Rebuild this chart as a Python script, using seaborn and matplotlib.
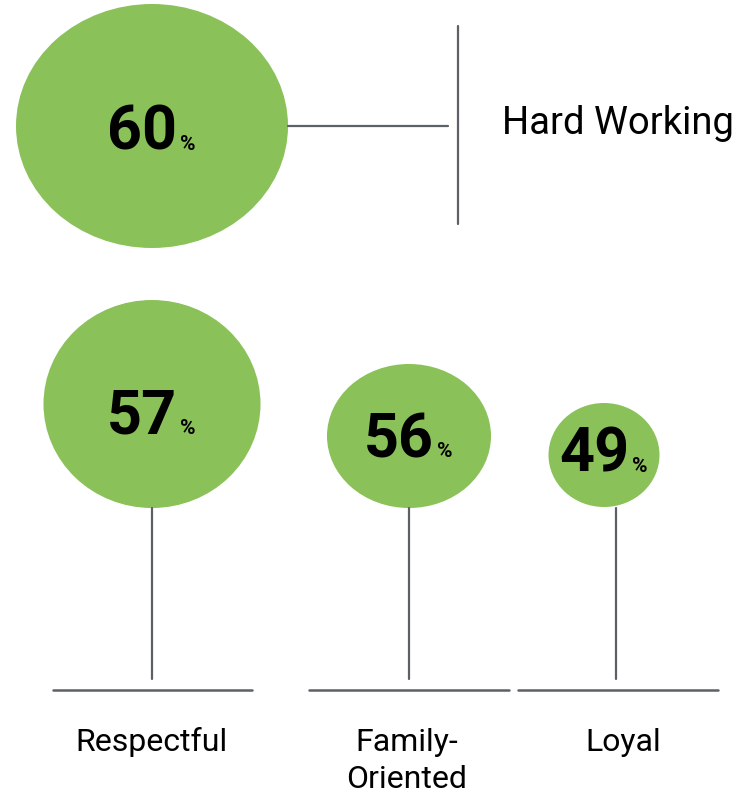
import numpy as np
import pandas as pd
import seaborn as sns
import matplotlib.pyplot as plt
from matplotlib.patches import Ellipse

# data
traits = ["Hard Working", "Respectful", "Family-\nOriented", "Loyal"]
shares = [60, 57, 56, 49]

# layout (pixel space of the 756x794 canvas)
bubble_x = [152, 152, 409, 604]
bubble_y = [126, 404, 436, 455]
bubble_w = [272, 217, 164, 111]
bubble_h = [244, 208, 144, 104]
number_y = [150, 434, 457, 472]

sns.set_theme(style="white")
plt.rcParams['font.family'] = ['Roboto', 'DejaVu Sans']

GREEN = "#8bc159"
GREY = "#5c6067"

df = pd.DataFrame({"trait": traits, "share": shares, "x": bubble_x, "y": bubble_y,
                   "w": bubble_w, "h": bubble_h, "ny": number_y})

fig = plt.figure(figsize=(7.56, 7.94), dpi=100)
ax = fig.add_axes([0, 0, 1, 1])
ax.set_xlim(0, 756)
ax.set_ylim(794, 0)
ax.axis("off")
renderer = fig.canvas.get_renderer()

#Bubbles with the percentage inside
for _, r in df.iterrows():
    ax.add_patch(Ellipse((r["x"], r["y"]), r["w"], r["h"], color=GREEN, lw=0, zorder=1))
    num = ax.text(r["x"] - 10, r["ny"], str(r["share"]), ha="center", va="baseline",
                  fontsize=44, fontweight="bold", color="black", zorder=3)
    bb = num.get_window_extent(renderer).transformed(ax.transData.inverted())
    ax.text(bb.x1 + 3, r["ny"], "%", ha="left", va="baseline", fontsize=15,
            fontweight="bold", color="black", zorder=3)

#Connector for the top bubble
top = df.iloc[0]
ax.plot([top["x"] + top["w"] / 2, 448], [top["y"], top["y"]], color=GREY, lw=1.6)
ax.plot([458, 458], [26, 224], color=GREY, lw=1.6)
ax.text(502, 134, top["trait"], ha="left", va="baseline", fontsize=27.5, color="black")

#Stems and bases for the bottom row
stem_x = [152, 409, 616]
base_l = [53, 309, 518]
base_r = [252, 509, 718]
label_x = [152, 407, 623]
for i, (_, r) in enumerate(df.iloc[1:].iterrows()):
    ax.plot([stem_x[i], stem_x[i]], [508, 679], color=GREY, lw=1.6)
    ax.plot([base_l[i], base_r[i]], [690, 690], color=GREY, lw=1.8)
    for j, line in enumerate(r["trait"].split("\n")):
        ax.text(label_x[i], 751 + 37 * j, line, ha="center", va="baseline",
                fontsize=23, color="black")

fig.savefig("out.png", dpi=100, facecolor="white")
